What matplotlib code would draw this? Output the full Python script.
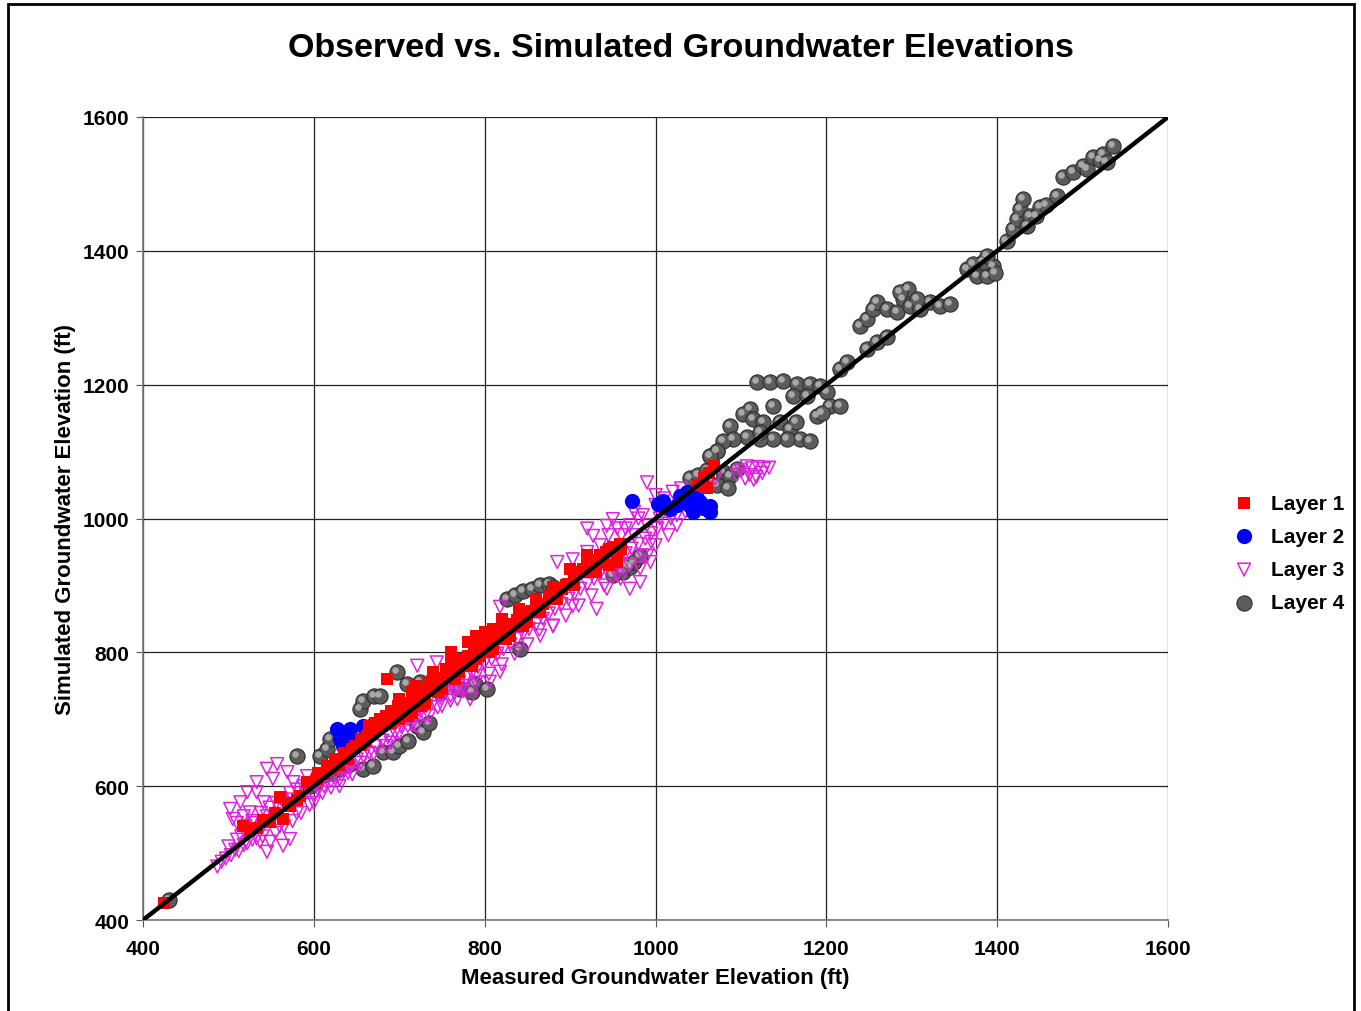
import numpy as np
import matplotlib
matplotlib.use("Agg")
import matplotlib.pyplot as plt
from matplotlib.patches import Rectangle
from matplotlib.transforms import ScaledTranslation

plt.rcParams["font.family"] = ["Liberation Sans", "DejaVu Sans"]
plt.rcParams["font.weight"] = "bold"

# measured, simulated pairs (ft)
layer1 = [
    (425, 425), (517, 540), (533, 538), (549, 546), (564, 551), (572, 570), (560, 584),
    (584, 585), (592, 606), (604, 611), (525, 535), (540, 550), (555, 560), (570, 575),
    (580, 580), (612, 618), (620, 625), (630, 632), (640, 640), (648, 660), (655, 670),
    (662, 675), (670, 682), (678, 700), (686, 760), (690, 712), (698, 720), (705, 715),
    (712, 725), (720, 735), (728, 740), (735, 745), (742, 750), (750, 762), (758, 770),
    (765, 780), (772, 790), (780, 795), (788, 800), (795, 810), (802, 818), (808, 822),
    (815, 828), (822, 835), (830, 842), (838, 848), (845, 855), (852, 860), (860, 866),
    (868, 872), (875, 880), (882, 888), (890, 895), (898, 902), (905, 910), (912, 920),
    (920, 930), (928, 938), (935, 945), (942, 950), (950, 958), (958, 962), (945, 930),
    (955, 935), (930, 920), (700, 700), (715, 710), (730, 725), (750, 745), (770, 770),
    (790, 790), (810, 805), (830, 825), (850, 845), (790, 825), (800, 830), (810, 835),
    (760, 785), (740, 770), (720, 750), (700, 730), (1050, 1050), (1057, 1060),
    (1063, 1068), (1068, 1078), (1060, 1045),
    (605, 620), (615, 630), (625, 640), (635, 650), (645, 655), (655, 662), (665, 690),
    (675, 690), (685, 705), (695, 710), (705, 725), (715, 740), (725, 745), (735, 755),
    (745, 760), (755, 775), (765, 770), (775, 780), (785, 790), (795, 795), (805, 812),
    (815, 820), (825, 832), (835, 840), (845, 850), (855, 862), (865, 870), (875, 885),
    (885, 892), (895, 900), (905, 915), (915, 925), (925, 935), (935, 940), (945, 955),
    (955, 950), (960, 955), (725, 720), (745, 740), (765, 760), (785, 780), (805, 800),
    (825, 820), (845, 840), (865, 860), (885, 880), (905, 900), (925, 920), (940, 935),
    (690, 695), (710, 705), (680, 690), (672, 695), (660, 668), (760, 800), (780, 815),
    (820, 850), (840, 865), (860, 880), (880, 898), (900, 925), (920, 945),
]

layer2 = [
    (627, 685), (631, 670), (642, 685), (658, 690), (666, 690), (634, 660), (645, 672),
    (972, 1026), (1003, 1022), (1009, 1026), (1017, 1014), (1029, 1034), (1037, 1039),
    (1040, 1019), (1044, 1010), (1052, 1025), (1064, 1019), (1064, 1010), (1025, 1020),
    (1055, 1015), (1048, 1030),
]

layer3 = [
    (487, 480), (492, 487), (497, 492), (503, 497), (508, 505), (512, 503), (518, 512),
    (522, 515), (528, 520), (533, 522), (502, 566), (505, 551), (514, 576), (522, 591),
    (525, 561), (533, 606), (533, 591), (541, 576), (545, 626), (552, 611), (557, 633),
    (569, 621), (576, 606), (592, 615), (510, 545), (518, 555), (528, 548), (538, 560),
    (548, 568), (556, 575), (562, 580), (572, 590), (580, 595), (588, 600), (545, 502),
    (549, 517), (572, 521), (564, 511), (537, 517), (555, 530), (565, 540), (575, 548),
    (585, 560), (595, 572), (600, 585), (540, 540), (530, 535), (520, 530),
    (605, 595), (612, 600), (620, 608), (628, 615), (635, 622), (642, 630), (650, 640),
    (658, 645), (665, 650), (672, 660), (680, 668), (688, 675), (695, 680), (702, 690),
    (710, 700), (718, 705), (725, 712), (732, 720), (740, 725), (748, 732), (755, 742),
    (762, 750), (770, 755), (778, 762), (785, 770), (792, 778), (800, 785), (640, 650),
    (660, 662), (700, 700), (721, 780), (744, 785), (768, 730), (783, 730), (806, 756),
    (818, 771), (720, 690), (735, 705), (750, 720), (765, 740), (630, 600), (645, 618),
    (690, 665), (710, 690), (760, 735), (775, 750), (790, 765),
    (808, 790), (815, 798), (822, 805), (830, 812), (838, 820), (845, 828), (852, 835),
    (860, 842), (868, 850), (875, 858), (882, 865), (890, 872), (898, 880), (905, 888),
    (912, 895), (920, 902), (928, 910), (935, 918), (942, 925), (950, 932), (958, 940),
    (965, 948), (972, 955), (980, 962), (988, 970), (995, 978), (1002, 985), (1010, 992),
    (1018, 1000), (1025, 1005), (818, 868), (880, 839), (864, 834), (903, 869), (931, 865),
    (943, 895), (959, 910), (970, 895), (982, 905), (994, 935), (990, 944), (982, 925),
    (885, 935), (903, 939), (920, 950), (927, 974), (943, 989), (950, 999), (920, 985),
    (990, 1054), (960, 975), (970, 990), (980, 1000), (1000, 1020), (1010, 1030),
    (1020, 1040), (1030, 1045), (1040, 1030), (1050, 1040), (1060, 1050), (1070, 1060),
    (1100, 1072), (1107, 1078), (1113, 1075), (1120, 1077), (1127, 1074), (1133, 1076),
    (1110, 1065), (1118, 1062), (1125, 1068), (1105, 1060), (1115, 1058), (1095, 1065),
    (610, 590), (620, 598), (630, 610), (640, 620), (655, 635), (670, 648), (685, 660),
    (700, 680), (715, 692), (730, 705), (745, 718), (760, 728), (775, 742), (790, 755),
    (805, 768), (820, 782), (835, 798), (850, 812), (865, 825), (880, 840), (895, 855),
    (910, 870), (925, 885), (940, 900), (955, 915), (970, 930), (985, 945), (1000, 960),
    (1015, 975), (960, 960), (975, 975), (990, 990), (1005, 1000), (1015, 1015),
    (995, 965), (1025, 990), (1035, 1010), (1045, 1020), (1000, 1035), (985, 1005),
    (975, 1010), (965, 985), (955, 985), (945, 975), (935, 960), (510, 520), (520, 540),
    (530, 545), (545, 555), (560, 565), (575, 580), (590, 590), (500, 510), (515, 525),
    (540, 525), (560, 540), (580, 560), (600, 575),
]

layer4 = [
    (430, 430), (580, 645), (595, 600), (600, 605), (607, 645), (615, 656), (619, 670),
    (610, 615), (620, 620), (630, 625), (640, 632), (658, 626), (669, 630), (681, 651),
    (693, 651), (700, 660), (710, 668), (721, 690), (728, 681), (735, 695), (654, 715),
    (658, 727), (670, 735), (677, 735), (697, 771), (709, 753), (724, 756), (740, 760),
    (748, 741), (771, 745), (789, 752), (803, 745), (785, 740),
    (826, 880), (835, 885), (845, 892), (855, 895), (865, 900), (875, 902), (880, 898),
    (841, 805), (962, 920), (970, 928), (975, 935), (982, 944), (965, 930), (950, 915),
    (1040, 1060), (1050, 1065), (1060, 1072), (1072, 1101), (1064, 1093), (1079, 1070),
    (1087, 1063), (1095, 1074), (1072, 1050), (1085, 1045),
    (1119, 1204), (1134, 1204), (1149, 1205), (1166, 1201), (1181, 1201), (1193, 1198),
    (1161, 1183), (1177, 1183), (1201, 1189), (1204, 1168), (1216, 1168), (1189, 1153),
    (1195, 1158), (1138, 1168), (1111, 1164), (1102, 1156), (1114, 1149), (1087, 1138),
    (1126, 1144), (1146, 1144), (1157, 1134), (1165, 1144), (1169, 1119), (1181, 1116),
    (1154, 1119), (1138, 1119), (1122, 1119), (1107, 1122), (1091, 1119), (1079, 1116),
    (1122, 1129), (1072, 1101), (1064, 1093),
    (1216, 1223), (1224, 1234), (1248, 1253), (1259, 1264), (1271, 1271),
    (1239, 1288), (1248, 1298), (1255, 1313), (1259, 1323), (1271, 1313), (1283, 1308),
    (1290, 1328), (1296, 1343), (1298, 1318), (1310, 1313), (1321, 1323), (1333, 1318),
    (1345, 1320), (1286, 1338), (1306, 1328),
    (1365, 1373), (1376, 1362), (1388, 1362), (1395, 1377), (1383, 1383), (1372, 1380),
    (1397, 1367), (1388, 1392), (1411, 1415),
    (1419, 1433), (1423, 1447), (1427, 1462), (1430, 1477), (1435, 1437), (1438, 1452),
    (1445, 1452), (1450, 1466), (1457, 1468), (1470, 1482),
    (1477, 1510), (1489, 1518), (1500, 1527), (1505, 1522), (1512, 1540), (1520, 1535),
    (1524, 1545), (1528, 1533), (1536, 1557),
]

one_to_one = [400, 1600]
ticks = [400, 600, 800, 1000, 1200, 1400, 1600]

fig = plt.figure(figsize=(13.61, 10.12), dpi=100)
ax = fig.add_axes([0.1051, 0.0899, 0.7531, 0.7935])

l1 = np.array(layer1)
l2 = np.array(layer2)
l3 = np.array(layer3)
l4 = np.array(layer4)

# grey spheres: dark ball plus a small highlight nudged up-left
ax.scatter(l4[:, 0], l4[:, 1], s=120, marker="o", color="#5c5c5c",
           edgecolors="#2e2e2e", linewidths=0.8, zorder=2, label="Layer 4")
shift = ax.transData + ScaledTranslation(-1.5 / 72, 1.5 / 72, fig.dpi_scale_trans)
ax.scatter(l4[:, 0], l4[:, 1], s=22, marker="o", color="#a8a8a8",
           linewidths=0, zorder=2.1, transform=shift)

ax.scatter(l3[:, 0], l3[:, 1], s=85, marker="v", facecolors="none",
           edgecolors="#e020e0", linewidths=1.1, zorder=3, label="Layer 3")
ax.scatter(l2[:, 0], l2[:, 1], s=120, marker="o", color="#0000ff",
           linewidths=0, zorder=4, label="Layer 2")
ax.scatter(l1[:, 0], l1[:, 1], s=70, marker="s", color="#ff0000",
           linewidths=0, zorder=5, label="Layer 1")

ax.plot(one_to_one, one_to_one, color="black", linewidth=3.2, zorder=6,
        solid_capstyle="butt")

ax.set_xlim(400, 1600)
ax.set_ylim(400, 1600)
ax.set_xticks(ticks)
ax.set_yticks(ticks)
ax.grid(True, color="#222222", linewidth=0.9)
ax.set_axisbelow(True)
for side in ["top", "right"]:
    ax.spines[side].set_visible(False)
for side in ["left", "bottom"]:
    ax.spines[side].set_color("#777777")
    ax.spines[side].set_linewidth(1.2)
ax.tick_params(direction="out", length=5, color="#555555", labelsize=15)
ax.tick_params(axis="x", pad=9)
ax.tick_params(axis="y", pad=5)
for lab in ax.get_xticklabels() + ax.get_yticklabels():
    lab.set_fontweight("bold")

ax.set_xlabel("Measured Groundwater Elevation (ft)", fontsize=16, fontweight="bold",
              labelpad=6)
ax.set_ylabel("Simulated Groundwater Elevation (ft)", fontsize=16, fontweight="bold",
              labelpad=5)
fig.text(0.5, 0.952, "Observed vs. Simulated Groundwater Elevations", ha="center",
         va="center", fontsize=24.5, fontweight="bold")

handles, labels = ax.get_legend_handles_labels()
order = [3, 2, 1, 0]
fig.legend([handles[i] for i in order], [labels[i] for i in order],
           loc="center left", bbox_to_anchor=(0.885, 0.4526), frameon=False,
           handletextpad=0.3, labelspacing=0.68,
           prop={"weight": "bold", "size": 15})

fig.add_artist(Rectangle((8 / 1361, -0.01), 1346 / 1361, 1 - 5 / 1012 + 0.01,
                         transform=fig.transFigure, fill=False,
                         edgecolor="black", linewidth=2))

fig.savefig("out.png", dpi=100, facecolor="white")
